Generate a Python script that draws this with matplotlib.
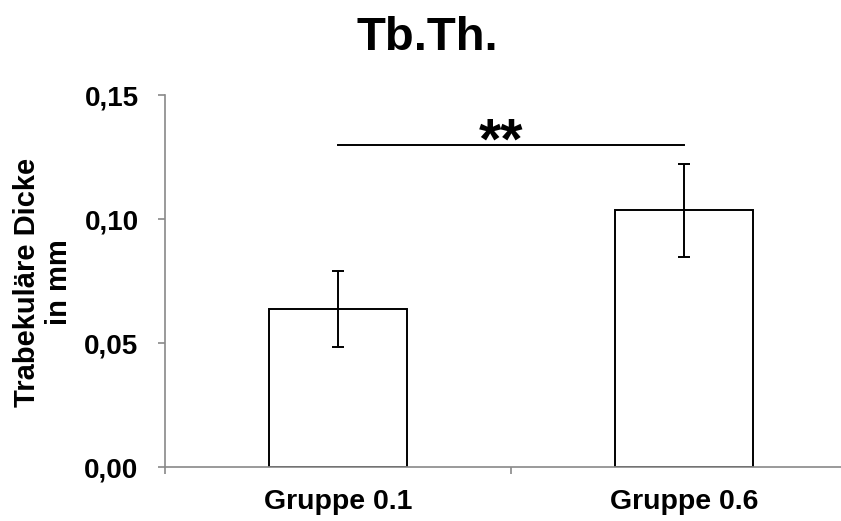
import numpy as np
import matplotlib.pyplot as plt
from matplotlib.ticker import FuncFormatter

plt.rcParams['font.family'] = ['Liberation Sans', 'DejaVu Sans']
plt.rcParams['font.weight'] = 'bold'

# Daten
gruppen = ['Gruppe 0.1', 'Gruppe 0.6']
mittelwerte = [0.0637, 0.1035]
fehler = [0.0153, 0.0187]
sig_hoehe = 0.1298
sig_text = '**'

fig = plt.figure(figsize=(8.41, 5.21), dpi=100)
ax = fig.add_axes([165 / 841, 54 / 521, 692 / 841, 372 / 521])

x = np.arange(len(gruppen))
ax.bar(x, mittelwerte, width=0.4, color='white', edgecolor='black', linewidth=1.4, zorder=2)
ax.errorbar(x, mittelwerte, yerr=fehler, fmt='none', ecolor='black',
            elinewidth=1.4, capsize=4.5, capthick=1.4, zorder=3)

# Signifikanz
ax.plot([x[0], x[1]], [sig_hoehe, sig_hoehe], color='black', linewidth=1.4)
ax.text((x[0] + x[1]) / 2 - 0.03, sig_hoehe - 0.0055, sig_text, ha='center', va='baseline',
        fontsize=41, fontweight='bold')

ax.set_xlim(-0.5, 1.5)
ax.set_ylim(0, 0.15)
ax.set_yticks([0, 0.05, 0.10, 0.15])
ax.yaxis.set_major_formatter(FuncFormatter(lambda v, p: f'{v:.2f}'.replace('.', ',')))
ax.set_xticks(x)
ax.set_xticklabels(gruppen)
ax.set_xticks([-0.5, 0.5, 1.5], minor=True)

ax.tick_params(axis='x', which='major', length=0, pad=16, labelsize=20.5)
ax.tick_params(axis='x', which='minor', length=5, width=1.2, color='#898989', direction='out')
ax.tick_params(axis='y', length=5, width=1.2, color='#898989', pad=14, labelsize=20)

for s in ['top', 'right']:
    ax.spines[s].set_visible(False)
for s in ['left', 'bottom']:
    ax.spines[s].set_color('#898989')
    ax.spines[s].set_linewidth(1.2)

fig.text(43 / 841, 1 - 282 / 521, 'Trabekuläre Dicke\nin mm', rotation=90, ha='center', va='center',
         fontsize=21, fontweight='bold', linespacing=1.2)
fig.text(427 / 841, 1 - 50 / 521, 'Tb.Th.', ha='center', va='baseline', fontsize=34, fontweight='bold')

fig.savefig('out.png', dpi=100)
